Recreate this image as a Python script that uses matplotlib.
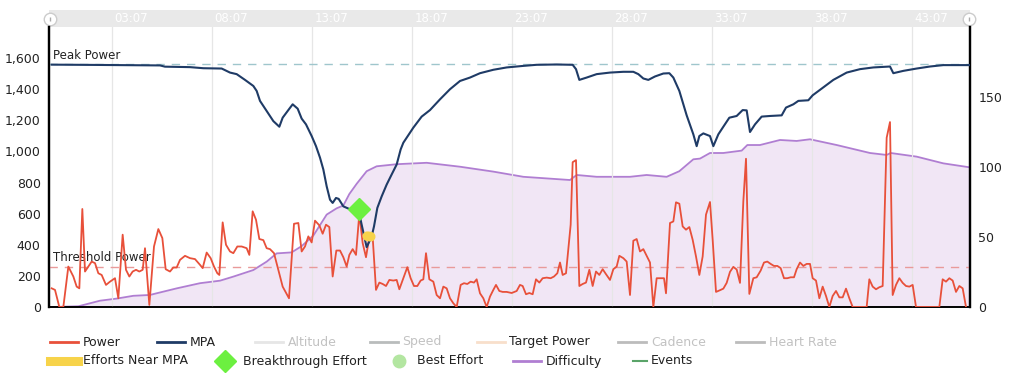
import matplotlib
matplotlib.use("Agg")
import matplotlib.pyplot as plt
from matplotlib.lines import Line2D
from matplotlib.ticker import FuncFormatter, FixedLocator

# ---- data (time in seconds) ----
power_t = [5, 15, 28, 40, 55, 70, 80, 88, 97, 105, 115, 125, 135, 145, 155, 168, 180, 195,
           205, 218, 228, 238, 248, 258, 268, 278, 285, 298, 312, 325, 337, 347, 360, 370,
           380, 390, 405, 420, 435, 450, 458, 470, 482, 492, 502, 508, 518, 528, 540, 550,
           562, 575, 590, 598, 608, 618, 628, 640, 650, 660, 672, 685, 698, 717, 732, 745,
           755, 765, 775, 785, 795, 808, 818, 828, 838, 848, 859, 870, 880, 890, 898, 908,
           918, 928, 938, 948, 958, 968, 978, 988, 998, 1008, 1018, 1030, 1040, 1048, 1060,
           1072, 1082, 1092, 1102, 1112, 1120, 1128, 1138, 1150, 1160, 1170, 1180, 1190,
           1200, 1210, 1220, 1232, 1242, 1252, 1262, 1272, 1280, 1290, 1300, 1310, 1320,
           1330, 1338, 1348, 1358, 1370, 1385, 1400, 1410, 1418, 1428, 1438, 1448, 1458,
           1468, 1478, 1490, 1502, 1512, 1522, 1530, 1538, 1548, 1555, 1562, 1568, 1578,
           1588, 1598, 1608, 1618, 1628, 1638, 1648, 1658, 1668, 1680, 1690, 1700, 1708,
           1720, 1730, 1740, 1750, 1760, 1770, 1780, 1790, 1800, 1810, 1820, 1832, 1842,
           1848, 1860, 1870, 1878, 1888, 1898, 1908, 1918, 1928, 1938, 1948, 1958, 1968,
           1980, 1988, 1998, 2010, 2020, 2030, 2040, 2050, 2060, 2070, 2080, 2088, 2098,
           2110, 2120, 2132, 2142, 2152, 2162, 2172, 2182, 2192, 2202, 2212, 2222, 2232,
           2240, 2250, 2260, 2270, 2280, 2288, 2298, 2308, 2318, 2328, 2338, 2348, 2358,
           2368, 2378, 2388, 2398, 2408, 2450, 2458, 2468, 2478, 2488, 2498, 2510, 2520,
           2528, 2538, 2548, 2558, 2568, 2578, 2588, 2598, 2668, 2678, 2688, 2698, 2708,
           2718, 2728, 2738, 2748]
power_w = [120, 110, 0, 0, 260, 196, 131, 120, 630, 228, 260, 292, 282, 217, 206, 142, 163, 185,
           56, 465, 239, 196, 228, 239, 228, 239, 378, 13, 389, 501, 443, 243, 228, 254,
           254, 303, 329, 314, 308, 271, 250, 350, 314, 260, 217, 206, 544, 400, 357, 346,
           389, 389, 378, 335, 615, 561, 437, 430, 378, 372, 346, 239, 131, 56, 535, 540,
           357, 389, 454, 415, 555, 525, 471, 529, 514, 196, 363, 363, 320, 260, 335, 372,
           335, 600, 411, 320, 450, 450, 110, 157, 148, 135, 174, 170, 174, 114, 185,
           256, 185, 135, 135, 170, 178, 346, 178, 163, 77, 56, 131, 120,
           56, 24, 0, 142, 153, 148, 163, 157, 178, 88, 56, 0, 67,
           110, 142, 103, 97, 97, 90, 103, 142, 135, 82, 90, 82, 178,
           157, 185, 189, 185, 196, 217, 286, 206, 217, 372, 529, 931, 944,
           135, 148, 157, 239, 135, 228, 206, 243, 211, 174, 243, 260, 329,
           314, 292, 77, 426, 437, 357, 372, 329, 286, 0, 185, 185, 185,
           88, 540, 550, 673, 664, 518, 497, 514, 432, 325, 206, 325, 594,
           675, 432, 97, 108, 118, 155, 226, 258, 241, 155, 680, 953, 84,
           185, 191, 234, 286, 292, 277, 264, 264, 250, 185, 185, 191, 191,
           243, 286, 264, 277, 277, 185, 170, 56, 131, 71, 0, 71, 103,
           62, 62, 118, 56, 0, 0, 178, 131, 114, 127, 135, 1088, 1189,
           77, 142, 185, 155, 135, 131, 142, 0, 0, 178, 163, 185, 170,
           97, 135, 120, 0]

mpa_t = [5, 150, 330, 345, 420, 460, 515, 540, 560, 585, 610, 620, 630, 650, 670, 688, 698,
         715, 728, 743, 755, 768, 785, 798, 810, 820, 830, 840, 848, 858, 866, 880, 898,
         915, 928, 935, 945, 950, 958, 965, 972, 982, 995, 1010, 1025, 1040, 1052, 1060,
         1090, 1115, 1140, 1170, 1200, 1230, 1260, 1290, 1330, 1370, 1420, 1460, 1520,
         1568, 1578, 1588, 1610, 1640, 1680, 1720, 1750, 1765, 1780, 1795, 1815, 1840,
         1858, 1870, 1888, 1910, 1930, 1940, 1948, 1960, 1980, 1990, 2005, 2020, 2038,
         2060, 2078, 2090, 2100, 2115, 2135, 2160, 2195, 2208, 2230, 2245, 2275, 2288,
         2315, 2350, 2390, 2430, 2470, 2520, 2530, 2560, 2600, 2640, 2680, 2758]
mpa_w = [1558, 1556, 1553, 1545, 1542, 1535, 1533, 1507, 1497, 1460, 1421, 1389, 1325, 1260,
         1195, 1159, 1217, 1266, 1303, 1275, 1211, 1174, 1099, 1034, 960, 884, 776, 690,
         669, 701, 695, 647, 630, 625, 600, 529, 432, 385, 421, 454, 518, 637, 711, 787,
         852, 916, 1013, 1056, 1153, 1224, 1266, 1335, 1400, 1453, 1475, 1503, 1525, 1540,
         1550, 1557, 1559, 1557, 1529, 1460, 1475, 1497, 1507, 1512, 1512, 1497, 1469,
         1460, 1482, 1501, 1503, 1475, 1389, 1232, 1110, 1034, 1099, 1116, 1099, 1034,
         1110, 1159, 1217, 1228, 1266, 1264, 1125, 1174, 1224, 1228, 1232, 1282, 1303,
         1325, 1329, 1361, 1404, 1460, 1507, 1529, 1540, 1546, 1503, 1518, 1533, 1546,
         1555, 1555]

diff_t = [5, 85, 150, 200, 250, 300, 320, 380, 450, 510, 550, 610, 650, 680, 725, 755, 790,
          830, 860, 880, 898, 920, 950, 980, 1040, 1130, 1230, 1330, 1420, 1560, 1580, 1640,
          1740, 1790, 1850, 1888, 1930, 1950, 1980, 2020, 2075, 2092, 2130, 2190, 2240,
          2280, 2360, 2460, 2510, 2522, 2600, 2680, 2758]
diff_v = [0, 0.5, 4.5, 6, 8, 8.6, 9.8, 13.3, 17, 18.8, 21.7, 26.4, 32.4, 38.3, 39, 43.5, 51,
          66, 70.5, 72.5, 80.7, 88, 97, 100.5, 102, 103, 100.2, 96.7, 93, 90.7, 94.3, 93,
          93, 94.3, 93, 97, 105.5, 106, 110, 110, 111.7, 115.7, 115.7, 119.3, 118.6,
          119.8, 115.7, 110, 108.6, 110, 107.4, 102.6, 99.8]

breakthrough_t = [927]
breakthrough_w = [632]
near_mpa_t = [952, 962]
near_mpa_w = [455, 452]

peak_power = 1560
threshold_power = 260

tick_secs = [187, 487, 787, 1087, 1387, 1687, 1987, 2287, 2587]
tick_labels = ["03:07", "08:07", "13:07", "18:07", "23:07", "28:07", "33:07", "38:07", "43:07"]

# ---- colours ----
c_power = "#e8503a"
c_mpa = "#1f3b66"
c_diff = "#b07ed2"
c_fill = "#f1e6f5"

plt.rcParams['font.family'] = ['DejaVu Sans']

W, H = 1024, 380
fig = plt.figure(figsize=(W / 100, H / 100), dpi=100)
L, R, T, B = 49, 970, 27, 307
ax2 = fig.add_axes([L / W, 1 - B / H, (R - L) / W, (B - T) / H])
ax = ax2.twinx()
# main axes (power) in front of the difficulty axes
ax2.set_zorder(1)
ax.set_zorder(2)
ax.patch.set_visible(False)
ax2.set_facecolor("white")

xmin, xmax = -3, 2760
ax.set_xlim(xmin, xmax)
ax2.set_xlim(xmin, xmax)

# difficulty (right scale)
ax2.fill_between(diff_t, diff_v, 0, color=c_fill, lw=0, zorder=1)
ax2.plot(diff_t, diff_v, color=c_diff, lw=1.3, zorder=2)
ax2.set_ylim(0, 200)

# power / mpa (left scale) -- twinx puts it on the right, move it
ax.yaxis.tick_left()
ax2.yaxis.tick_right()
ax.set_ylim(0, 1800)

for t in tick_secs:
    ax.axvline(t, color="#e6e6e6", lw=0.9, zorder=0)

ax.axhline(peak_power, color="#9fc6cc", lw=1, ls=(0, (6, 5)), zorder=1)
ax.axhline(threshold_power, color="#e99a9a", lw=1, ls=(0, (6, 5)), zorder=1)
ax.text(9, peak_power + 18, "Peak Power", fontsize=8.5, color="#222222", va="bottom")
ax.text(9, threshold_power + 18, "Threshold Power", fontsize=8.5, color="#222222", va="bottom")

ax.plot(power_t, power_w, color=c_power, lw=1.3, zorder=3)
ax.plot(mpa_t, mpa_w, color=c_mpa, lw=1.5, zorder=4)
ax.plot(near_mpa_t, near_mpa_w, color="#f7d34a", lw=7, solid_capstyle="round", zorder=5)
ax.plot(breakthrough_t, breakthrough_w, "D", color="#6cf040", ms=11, mec="#6cf040", zorder=6)

ax.yaxis.set_major_locator(FixedLocator(range(0, 1601, 200)))
ax.yaxis.set_major_formatter(FuncFormatter(lambda v, p: f"{int(v):,}"))
ax2.yaxis.set_major_locator(FixedLocator([0, 50, 100, 150]))
ax.set_xticks(tick_secs)
ax.set_xticklabels(tick_labels)
ax2.set_xticks([])

for a in (ax, ax2):
    a.tick_params(length=0, labelsize=9, colors="#222222", pad=6)
    a.spines["top"].set_visible(False)
    for s in ("left", "right", "bottom"):
        a.spines[s].set_color("black")
    a.spines["left"].set_linewidth(1.6)
    a.spines["right"].set_linewidth(1.6)
    a.spines["bottom"].set_linewidth(1.2)
ax.tick_params(axis="x", pad=7)

# ---- navigator strip on top ----
nav = fig.add_axes([L / W, 1 - T / H, (R - L) / W, 17 / H])
nav.set_facecolor("#e9e9e9")
nav.set_xlim(xmin, xmax)
nav.set_ylim(0, 1)
nav.set_xticks([])
nav.set_yticks([])
for s in nav.spines.values():
    s.set_visible(False)
for t, lab in zip(tick_secs, tick_labels):
    nav.text(t + 6, 0.5, lab, color="white", fontsize=8.5, va="center", ha="left")
nav.plot([xmin + 3, xmax - 3], [0.5, 0.5], "o", ms=9, mfc="white", mec="#cccccc",
         mew=1, clip_on=False, zorder=5)
nav.plot([xmin + 3, xmax - 3], [0.5, 0.5], "|", ms=3, color="#aaaaaa", clip_on=False, zorder=6)


# ---- legend (drawn manually in figure pixels) ----
def fx(px):
    return px / W


def fy(py):
    return 1 - py / H


def leg_line(x0, x1, y, color, lw=2):
    fig.add_artist(Line2D([fx(x0), fx(x1)], [fy(y), fy(y)], color=color, lw=lw,
                          transform=fig.transFigure))


def leg_text(x, y, s, color="#222222"):
    fig.text(fx(x), fy(y), s, fontsize=9, color=color, va="center", ha="left")


hid = "#c2c2c2"
r1, r2 = 342, 361
leg_line(50, 78, r1, c_power)
leg_text(83, r1, "Power")
leg_line(157, 185, r1, c_mpa)
leg_text(190, r1, "MPA")
leg_line(255, 283, r1, "#e6e6e6")
leg_text(288, r1, "Altitude", hid)
leg_line(370, 398, r1, "#b9bcbc")
leg_text(402, r1, "Speed", hid)
leg_line(477, 505, r1, "#f8dfcb")
leg_text(509, r1, "Target Power")
leg_line(618, 646, r1, "#bcbcbc")
leg_text(651, r1, "Cadence", hid)
leg_line(736, 764, r1, "#bcbcbc")
leg_text(769, r1, "Heart Rate", hid)

leg_line(50, 78, r2, "#f7d34a", lw=6.5)
leg_text(83, r2, "Efforts Near MPA")
fig.add_artist(Line2D([fx(225)], [fy(r2)], marker="D", ms=11, color="#6cf040", lw=0,
                      transform=fig.transFigure))
leg_text(243, r2, "Breakthrough Effort")
fig.add_artist(Line2D([fx(399)], [fy(r2)], marker="o", ms=9, color="#b3e6a1", lw=0,
                      transform=fig.transFigure))
leg_text(417, r2, "Best Effort")
leg_line(513, 541, r2, c_diff)
leg_text(546, r2, "Difficulty")
leg_line(633, 647, r2, "#5aa469", lw=1.5)
leg_text(651, r2, "Events")

fig.savefig("out.png", dpi=100)
